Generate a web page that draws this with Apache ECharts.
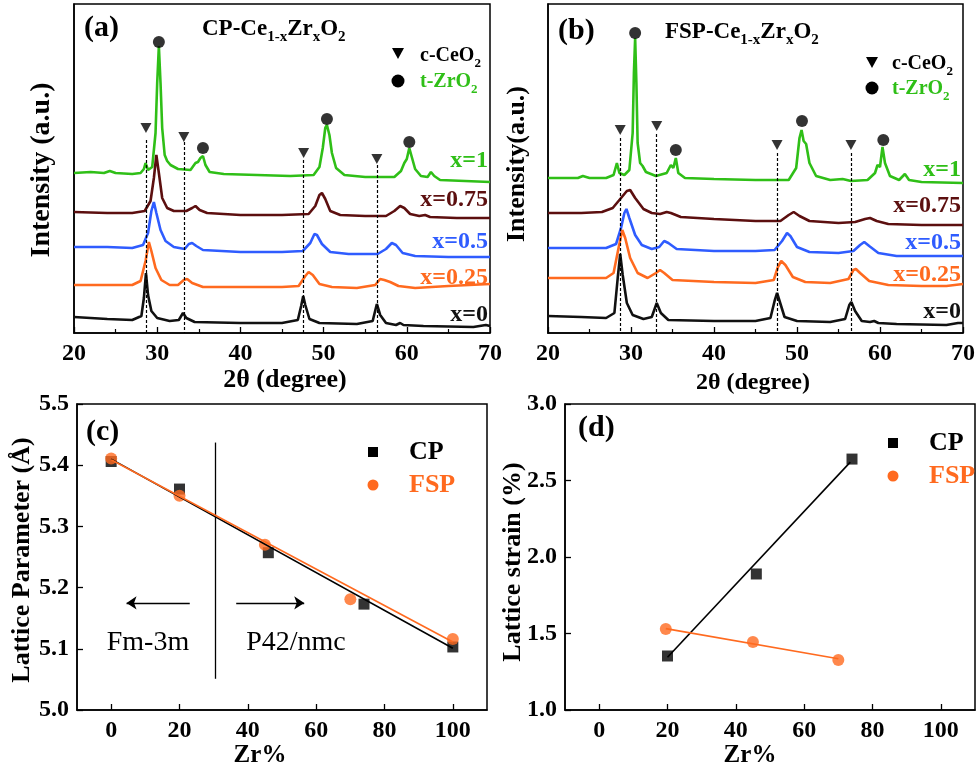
<!DOCTYPE html>
<html>
<head>
<meta charset="utf-8">
<script src="https://cdn.jsdelivr.net/npm/echarts@6/dist/echarts.min.js"></script>
<style>
  html, body { margin: 0; padding: 0; background: #fff; }
  #chart { width: 980px; height: 769px; }
</style>
</head>
<body>
<div id="chart"></div>
<script>
// ---- XRD patterns, panel (a) CP, [2theta, intensity a.u.] ----
const cpX1 = [[20,160],[22,161],[23.6,160],[24.3,162],[25,160],[27,159],[28.0,160],[28.4,164],[28.6,170],[28.9,163],[29.4,166],[29.8,200],[30.0,250],[30.2,287],[30.4,250],[30.6,205],[30.9,178],[31.2,172],[31.6,168],[32.5,164],[34.0,163],[34.6,170],[34.9,171],[35.2,175],[35.5,177],[35.8,168],[36.3,161],[38,159],[42,158],[46,157],[48.8,158],[49.5,166],[49.9,185],[50.2,205],[50.4,208],[50.7,198],[51.0,180],[51.5,165],[52.5,158],[55,156],[58.5,156],[59.3,162],[59.7,170],[60.0,174],[60.3,185],[60.6,176],[61.0,164],[61.7,157],[62.5,156],[62.9,161],[63.3,157],[64,153],[67,152],[70,151]];
const cpX075 = [[20,121],[24,120],[27,120],[28.5,122],[29.2,132],[29.6,155],[29.9,178],[30.2,160],[30.6,135],[31.2,125],[32,122],[33.5,122],[34.2,125],[34.6,127],[35.1,123],[36,120],[40,118],[45,118],[48.2,119],[49.0,127],[49.5,138],[49.8,140],[50.2,134],[50.8,122],[52,118],[55,117],[57.5,117],[58.5,122],[59.2,127],[59.7,125],[60.4,119],[61.5,117],[62.2,118],[62.8,116],[66,115],[70,115]];
const cpX05 = [[20,86],[24,86],[27,85],[28.3,88],[28.9,100],[29.3,122],[29.6,131],[29.9,120],[30.4,103],[31.0,92],[32,86],[33.3,84],[33.8,89],[34.2,90],[34.7,87],[35.5,83],[40,81],[45,81],[47.5,82],[48.4,90],[48.9,99],[49.2,98],[49.8,89],[50.8,81],[53,79],[56.5,79],[57.5,84],[58.2,90],[58.7,88],[59.5,80],[61,77],[65,76],[70,76]];
const cpX025 = [[20,48],[24,48],[27,48],[28.0,52],[28.6,72],[29.0,91],[29.3,82],[29.8,65],[30.5,53],[31.5,48],[32.5,48],[33.2,53],[33.6,54],[34.2,50],[35.5,46],[40,46],[45,46],[47.0,47],[47.8,57],[48.2,61],[48.7,58],[49.5,49],[51,46],[54,45],[56.2,48],[56.8,54],[57.3,53],[58.0,51],[59,47],[61,45],[65,47],[70,49]];
const cpX0 = [[20,16],[24,14],[27,13],[28.1,17],[28.4,35],[28.65,60],[28.9,38],[29.3,22],[30,15],[31.5,12],[32.6,13],[33.1,20],[33.5,15],[34.5,11],[40,10],[45,10],[46.9,13],[47.3,27],[47.55,37],[47.8,28],[48.3,14],[49.5,10],[54,9],[55.9,12],[56.4,29],[56.8,18],[57.5,10],[58.7,8],[59.2,10],[59.6,8],[62,7],[68,6],[69.5,8],[70,7]];

// ---- XRD patterns, panel (b) FSP ----
const fspX1 = [[20,155],[22,155],[23.6,155],[24.2,157],[25,155],[27,155],[27.9,158],[28.3,170],[28.6,160],[29.2,158],[29.8,163],[30.2,200],[30.35,260],[30.5,295],[30.65,250],[30.8,190],[31.1,170],[31.4,167],[31.8,161],[33,157],[34.3,160],[34.8,168],[35.1,165],[35.4,175],[35.7,160],[36.5,155],[40,154],[45,153],[49,153],[49.9,165],[50.3,195],[50.55,203],[50.8,192],[51.1,189],[51.5,170],[52.3,157],[54,153],[55.5,154],[56.5,152],[58.5,153],[59.4,160],[59.7,168],[60.0,166],[60.3,186],[60.6,170],[61.2,157],[62.3,153],[63.0,159],[63.5,153],[65,151],[70,150]];
const fspX075 = [[20,120],[24,120],[26.5,121],[27.8,125],[28.8,135],[29.5,142],[29.9,143],[30.5,135],[31.5,124],[32.5,120],[33.5,119],[34.3,121],[34.8,120],[36,116],[40,114],[45,112],[48,112],[49.0,118],[49.6,121],[50.3,117],[51.5,112],[55,110],[57,111],[58.2,114],[58.8,115],[59.6,112],[61,109],[65,108],[70,108]];
const fspX05 = [[20,85],[24,85],[27,85],[28.2,89],[28.8,105],[29.2,120],[29.45,124],[29.8,115],[30.5,98],[31.3,88],[32.5,84],[33.4,86],[34.0,92],[34.5,90],[35.5,84],[40,82],[45,82],[47.3,83],[48.2,92],[48.8,100],[49.2,97],[50,86],[51.5,81],[55,80],[56.8,82],[57.6,88],[58.1,91],[58.7,87],[59.8,80],[62,77],[66,77],[70,77]];
const fspX025 = [[20,55],[24,55],[27,55],[27.9,60],[28.5,85],[28.95,103],[29.3,95],[29.9,75],[30.8,60],[32,55],[33.0,60],[33.5,63],[34.0,60],[35,53],[40,51],[45,50],[47.2,53],[47.7,66],[48.1,72],[48.6,68],[49.5,56],[51,51],[54,50],[56.2,54],[56.8,63],[57.1,64],[57.6,60],[58.7,52],[61,48],[65,47],[68,47],[70,49]];
const fspX0 = [[20,17],[24,16],[27,15],[28.0,20],[28.4,55],[28.7,79],[29.0,58],[29.5,30],[30.2,18],[31.5,14],[32.5,16],[33.1,30],[33.6,20],[34.5,13],[40,12],[45,12],[46.8,15],[47.3,32],[47.6,40],[47.9,32],[48.5,16],[50,12],[54,11],[55.8,14],[56.3,28],[56.55,31],[57,22],[57.8,12],[58.8,11],[59.3,12],[59.8,10],[62,9],[68,8],[69.4,10],[70,10]];

// peak markers
const ceo2PosA = [28.65, 33.2, 47.6, 56.4];
const ceo2MarkA = [205, 196, 180, 174];
const ceo2DashA = [193, 191, 173, 168];
const zro2PosA = [30.2, 35.5, 50.4, 60.3];
const zro2MarkA = [291, 185, 214, 191];

const ceo2PosB = [28.7, 33.1, 47.6, 56.5];
const ceo2MarkB = [203, 207, 188, 188];
const ceo2DashB = [195, 199, 180, 180];
const zro2PosB = [30.5, 35.4, 50.6, 60.4];
const zro2MarkB = [300, 183, 212, 193];

const sampleLabels = ['x=1', 'x=0.75', 'x=0.5', 'x=0.25', 'x=0'];

// ---- panel (c) lattice parameter ----
const zrTicks = [0, 20, 40, 60, 80, 100];
const cpZrC = [0, 20, 46, 74, 100];
const cpLattice = [5.406, 5.361, 5.257, 5.173, 5.103];
const fspZrC = [0, 20, 45, 70, 100];
const fspLattice = [5.411, 5.350, 5.270, 5.181, 5.116];
const cpFitC = [[0, 5.410], [100, 5.101]];
const fspFitC = [[0, 5.409], [100, 5.111]];

// ---- panel (d) lattice strain ----
const cpZrD = [20, 46, 74];
const cpStrain = [1.353, 1.889, 2.640];
const fspZrD = [19.5, 45, 70];
const fspStrain = [1.530, 1.445, 1.327];
const cpFitD = [[20, 1.345], [73.5, 2.620]];
const fspFitD = [[19.5, 1.532], [70, 1.335]];

const FONT = "'Liberation Serif', 'Times New Roman', serif";
const cGreen = '#2fbf17', cBrown = '#5c0f0f', cBlue = '#2f5cff', cOrange = '#ff6a1f', cBlack = '#111';
const lineColors = [cGreen, cBrown, cBlue, cOrange, cBlack];

const pair = (xs, ys) => xs.map((x, i) => [x, ys[i]]);

function xrdX (gi) {
  return {
    gridIndex: gi, type: 'value', min: 20, max: 70, interval: 10,
    axisLine: { onZero: false, lineStyle: { color: '#000', width: 1.5 } },
    axisTick: { inside: true, length: 6, lineStyle: { color: '#000', width: 1.3 } },
    minorTick: { show: true, splitNumber: 2, length: 4, lineStyle: { color: '#000', width: 1.2 } },
    splitLine: { show: false },
    axisLabel: { fontFamily: FONT, fontWeight: 'bold', fontSize: 24, color: '#000', margin: 9 }
  }
}
function xrdY (gi) {
  return {
    gridIndex: gi, type: 'value', min: 0, max: 329,
    axisLine: { show: true, onZero: false, lineStyle: { color: '#000', width: 1.5 } },
    axisTick: { show: false }, axisLabel: { show: false }, splitLine: { show: false }
  }
}
function zrX (gi) {
  return {
    gridIndex: gi, type: 'value', min: -10, max: 110,
    axisLine: { onZero: false, lineStyle: { color: '#000', width: 1.5 } },
    axisTick: { inside: true, length: 6, customValues: zrTicks, lineStyle: { color: '#000', width: 1.3 } },
    splitLine: { show: false },
    axisLabel: { customValues: zrTicks, fontFamily: FONT, fontWeight: 'bold', fontSize: 24, color: '#000', margin: 9 }
  }
}
function valY (gi, min, max, interval) {
  return {
    gridIndex: gi, type: 'value', min: min, max: max, interval: interval,
    axisLine: { show: true, onZero: false, lineStyle: { color: '#000', width: 1.5 } },
    axisTick: { inside: true, length: 6, lineStyle: { color: '#000', width: 1.3 } },
    splitLine: { show: false },
    axisLabel: { fontFamily: FONT, fontWeight: 'bold', fontSize: 24, color: '#000', margin: 8,
      formatter: v => v.toFixed(1) }
  }
}

function xrdSeries (gi, curves, cePos, ceMark, ceDash, zrPos, zrMark) {
  const out = curves.map((d, i) => ({
    type: 'line', xAxisIndex: gi, yAxisIndex: gi, data: d, symbol: 'none',
    lineStyle: { color: lineColors[i], width: 2.6 }, z: 3
  }));
  out.push({
    type: 'scatter', xAxisIndex: gi, yAxisIndex: gi, data: pair(cePos, ceMark),
    symbol: 'triangle', symbolRotate: 180, symbolSize: [11, 10],
    itemStyle: { color: '#000' }, z: 4,
    markLine: {
      silent: true, symbol: ['none', 'none'], label: { show: false },
      lineStyle: { color: '#000', width: 1.2, type: [3, 2] },
      data: cePos.map((x, i) => [{ coord: [x, ceDash[i]] }, { coord: [x, 0] }])
    }
  });
  out.push({
    type: 'scatter', xAxisIndex: gi, yAxisIndex: gi, data: pair(zrPos, zrMark),
    symbol: 'circle', symbolSize: 12, itemStyle: { color: '#000' }, z: 4
  });
  return out
}

// main text hangs from the top of the line, subscript sits at its bottom
const subRich = (size, subSize, shift, color) => ({
  m: { fontFamily: FONT, fontWeight: 'bold', fontSize: size, lineHeight: size, verticalAlign: 'top', fill: color, color: color },
  s: { fontFamily: FONT, fontWeight: 'bold', fontSize: subSize, lineHeight: Math.round(size / 2 + subSize / 2 + shift), verticalAlign: 'bottom', fill: color, color: color }
});

function txt (x, y, text, size, opts) {
  opts = opts || {};
  return {
    type: 'text', x: x, y: y, rotation: opts.rot || 0, z: 10,
    style: {
      text: text, fill: opts.color || '#000', align: opts.align || 'left',
      verticalAlign: opts.va || 'middle',
      font: (opts.normal ? '' : 'bold ') + size + 'px ' + FONT,
      rich: opts.rich
    }
  }
}

const graphics = [
  // panel (a)
  txt(84, 28, '(a)', 30),
  txt(202, 18, '{m|CP-Ce}{s|1-x}{m|Zr}{s|x}{m|O}{s|2}', 23, { va: 'top', rich: subRich(23, 15, 8, '#000') }),
  { type: 'polygon', z: 10, shape: { points: [[392, 48], [404, 48], [398, 59]] }, style: { fill: '#000' } },
  txt(420, 46, '{m|c-CeO}{s|2}', 20, { va: 'top', rich: subRich(20, 13, 7, '#000') }),
  { type: 'circle', z: 10, shape: { cx: 398, cy: 81, r: 6.5 }, style: { fill: '#000' } },
  txt(420, 72, '{m|t-ZrO}{s|2}', 20, { va: 'top', color: cGreen, rich: subRich(20, 13, 7, cGreen) }),
  txt(42, 170, 'Intensity (a.u.)', 28, { rot: Math.PI / 2, align: 'center' }),
  txt(285, 380, '2θ (degree)', 26, { align: 'center' }),
  // panel (b)
  txt(558, 31, '(b)', 30),
  txt(665, 21, '{m|FSP-Ce}{s|1-x}{m|Zr}{s|x}{m|O}{s|2}', 23, { va: 'top', rich: subRich(23, 15, 8, '#000') }),
  { type: 'polygon', z: 10, shape: { points: [[866, 57], [878, 57], [872, 68]] }, style: { fill: '#000' } },
  txt(892, 54, '{m|c-CeO}{s|2}', 20, { va: 'top', rich: subRich(20, 13, 7, '#000') }),
  { type: 'circle', z: 10, shape: { cx: 872, cy: 88, r: 6.5 }, style: { fill: '#000' } },
  txt(892, 79, '{m|t-ZrO}{s|2}', 20, { va: 'top', color: cGreen, rich: subRich(20, 13, 7, cGreen) }),
  txt(517, 164, 'Intensity(a.u.)', 26, { rot: Math.PI / 2, align: 'center' }),
  txt(753, 383, '2θ (degree)', 24, { align: 'center' }),
  // panel (c)
  txt(86, 432, '(c)', 30),
  { type: 'rect', z: 10, shape: { x: 368, y: 447, width: 10, height: 10 }, style: { fill: '#000' } },
  txt(409, 452, 'CP', 26),
  { type: 'circle', z: 10, shape: { cx: 373, cy: 485, r: 5.5 }, style: { fill: cOrange } },
  txt(409, 485, 'FSP', 26, { color: cOrange }),
  txt(148, 643, 'Fm-3m', 28, { align: 'center', normal: true }),
  txt(296, 643, 'P42/nmc', 28, { align: 'center', normal: true }),
  txt(22, 560, 'Lattice Parameter (Å)', 26, { rot: Math.PI / 2, align: 'center' }),
  txt(260, 756, 'Zr%', 25, { align: 'center' }),
  // panel (d)
  txt(578, 428, '(d)', 30),
  { type: 'rect', z: 10, shape: { x: 888, y: 438, width: 10, height: 10 }, style: { fill: '#000' } },
  txt(929, 443, 'CP', 26),
  { type: 'circle', z: 10, shape: { cx: 893, cy: 476, r: 5.5 }, style: { fill: cOrange } },
  txt(929, 476, 'FSP', 26, { color: cOrange }),
  txt(513, 562, 'Lattice strain (%)', 26, { rot: Math.PI / 2, align: 'center' }),
  txt(750, 756, 'Zr%', 25, { align: 'center' })
];

// sample labels on the right of the XRD panels
const labelYA = [161, 200, 242, 278, 315];
const labelYB = [170, 206, 243, 275, 312];
sampleLabels.forEach((s, i) => {
  graphics.push(txt(488, labelYA[i], s, 24, { align: 'right', color: lineColors[i] }));
  graphics.push(txt(961, labelYB[i], s, 24, { align: 'right', color: lineColors[i] }));
});

const gridStyle = { show: true, borderColor: '#000', borderWidth: 1.5 };

const option = {
  animation: false,
  backgroundColor: '#fff',
  grid: [
    Object.assign({ left: 74, top: 4, width: 416, height: 329 }, gridStyle),
    Object.assign({ left: 548, top: 4, width: 415, height: 329 }, gridStyle),
    Object.assign({ left: 77, top: 404, width: 410, height: 306 }, gridStyle),
    Object.assign({ left: 565, top: 404, width: 410, height: 306 }, gridStyle)
  ],
  xAxis: [xrdX(0), xrdX(1), zrX(2), zrX(3)],
  yAxis: [xrdY(0), xrdY(1), valY(2, 5.0, 5.5, 0.1), valY(3, 1.0, 3.0, 0.5)],
  graphic: graphics,
  series: [].concat(
    xrdSeries(0, [cpX1, cpX075, cpX05, cpX025, cpX0], ceo2PosA, ceo2MarkA, ceo2DashA, zro2PosA, zro2MarkA),
    xrdSeries(1, [fspX1, fspX075, fspX05, fspX025, fspX0], ceo2PosB, ceo2MarkB, ceo2DashB, zro2PosB, zro2MarkB),
    [
      {
        type: 'scatter', xAxisIndex: 2, yAxisIndex: 2, data: pair(cpZrC, cpLattice),
        symbol: 'rect', symbolSize: 11, itemStyle: { color: '#000' }, z: 3,
        markLine: {
          silent: true, label: { show: false }, symbolSize: 10,
          lineStyle: { color: '#000', width: 1.3, type: 'solid' },
          data: [
            [{ coord: [30.5, 5.051], symbol: 'none' }, { coord: [30.5, 5.437], symbol: 'none' }],
            [{ coord: [23, 5.175], symbol: 'none' }, { coord: [4.5, 5.175], symbol: 'arrow' }],
            [{ coord: [36.6, 5.175], symbol: 'none' }, { coord: [56.5, 5.175], symbol: 'arrow' }]
          ]
        }
      },
      {
        type: 'scatter', xAxisIndex: 2, yAxisIndex: 2, data: pair(fspZrC, fspLattice),
        symbol: 'circle', symbolSize: 12, itemStyle: { color: cOrange }, z: 4
      },
      {
        type: 'line', xAxisIndex: 2, yAxisIndex: 2, data: cpFitC, symbol: 'none',
        lineStyle: { color: '#000', width: 1.6 }, z: 5
      },
      {
        type: 'line', xAxisIndex: 2, yAxisIndex: 2, data: fspFitC, symbol: 'none',
        lineStyle: { color: cOrange, width: 1.6 }, z: 6
      },
      {
        type: 'scatter', xAxisIndex: 3, yAxisIndex: 3, data: pair(cpZrD, cpStrain),
        symbol: 'rect', symbolSize: 11, itemStyle: { color: '#000' }, z: 3
      },
      {
        type: 'scatter', xAxisIndex: 3, yAxisIndex: 3, data: pair(fspZrD, fspStrain),
        symbol: 'circle', symbolSize: 12, itemStyle: { color: cOrange }, z: 4
      },
      {
        type: 'line', xAxisIndex: 3, yAxisIndex: 3, data: cpFitD, symbol: 'none',
        lineStyle: { color: '#000', width: 1.6 }, z: 5
      },
      {
        type: 'line', xAxisIndex: 3, yAxisIndex: 3, data: fspFitD, symbol: 'none',
        lineStyle: { color: cOrange, width: 1.6 }, z: 6
      }
    ]
  )
};

const chart = echarts.init(document.getElementById('chart'), null, { renderer: 'canvas' });
chart.setOption(option);
</script>
</body>
</html>
